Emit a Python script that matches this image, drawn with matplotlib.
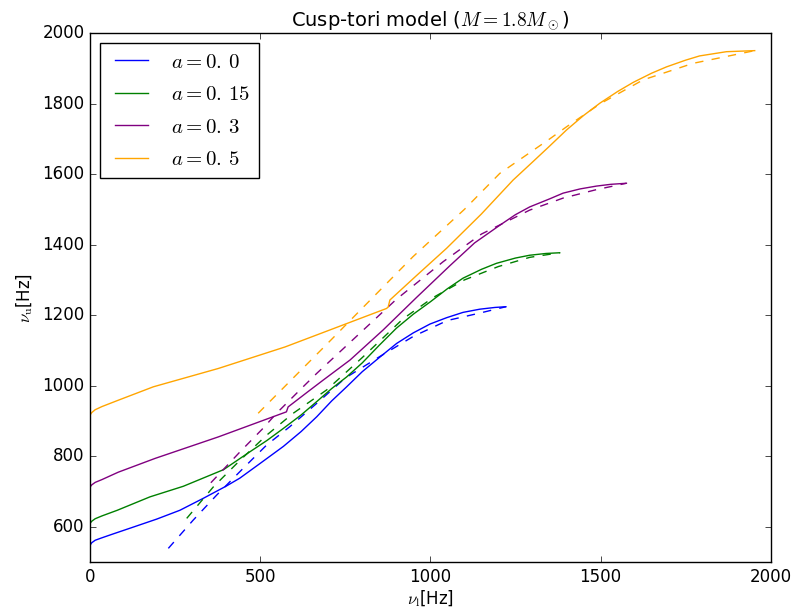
import matplotlib
matplotlib.use("Agg")
import matplotlib.pyplot as plt

plt.style.use("classic")

spins = [r"0.\,0", r"0.\,15", r"0.\,3", r"0.\,5"]
colors = ["blue", "green", "purple", "orange"]

# solid curves (nu_l, nu_u)
blue_x = [0, 5, 15, 35, 68, 120, 196, 264, 333, 401, 440, 500, 568, 620, 666, 710, 754, 800, 850, 901, 950, 999, 1048, 1096, 1145, 1190, 1222]
blue_y = [548, 555, 562, 569, 580, 597, 622, 647, 681, 716, 738, 780, 828, 870, 912, 957, 997, 1040, 1080, 1120, 1150, 1175, 1193, 1208, 1217, 1222, 1224]
green_x = [0, 5, 15, 35, 80, 176, 274, 392, 470, 520, 568, 620, 666, 710, 754, 800, 850, 900, 950, 1000, 1050, 1096, 1150, 1194, 1250, 1292, 1340, 1380]
green_y = [610, 616, 623, 631, 647, 685, 715, 762, 813, 845, 879, 917, 955, 992, 1025, 1065, 1115, 1163, 1203, 1238, 1275, 1305, 1330, 1347, 1362, 1370, 1375, 1377]
purple_x = [0, 5, 15, 35, 83, 191, 377, 560, 577, 582, 640, 685, 764, 861, 959, 1057, 1130, 1204, 1250, 1292, 1351, 1390, 1440, 1488, 1530, 1576]
purple_y = [713, 719, 726, 734, 755, 794, 855, 920, 926, 940, 983, 1016, 1073, 1158, 1250, 1340, 1405, 1455, 1485, 1507, 1530, 1546, 1558, 1566, 1571, 1574]
orange_x = [0, 5, 15, 35, 83, 186, 377, 573, 666, 871, 876, 881, 960, 1048, 1150, 1243, 1300, 1351, 1400, 1450, 1498, 1550, 1596, 1650, 1694, 1750, 1791, 1870, 1953]
orange_y = [917, 924, 932, 941, 959, 997, 1049, 1110, 1144, 1219, 1223, 1243, 1313, 1390, 1487, 1583, 1634, 1680, 1725, 1766, 1801, 1834, 1860, 1886, 1904, 1923, 1935, 1947, 1950]

# dashed curves
blue_dx = [230, 303, 372, 450, 519, 587, 666, 750, 850, 950, 1050, 1145, 1222]
blue_dy = [539, 619, 690, 766, 832, 884, 950, 1022, 1082, 1140, 1185, 1206, 1224]
green_dx = [284, 362, 441, 519, 597, 695, 800, 920, 1008, 1100, 1200, 1292, 1380]
green_dy = [624, 713, 789, 860, 922, 988, 1080, 1190, 1250, 1300, 1338, 1364, 1377]
purple_dx = [355, 441, 509, 548, 626, 666, 813, 900, 1038, 1150, 1292, 1390, 1488, 1576]
purple_dy = [725, 813, 880, 922, 997, 1035, 1167, 1245, 1352, 1430, 1498, 1532, 1556, 1574]
orange_dx = [494, 600, 700, 800, 949, 1100, 1204, 1351, 1400, 1500, 1625, 1772, 1953]
orange_dy = [922, 1025, 1122, 1220, 1366, 1500, 1602, 1700, 1734, 1800, 1867, 1914, 1950]

solid = [(blue_x, blue_y), (green_x, green_y), (purple_x, purple_y), (orange_x, orange_y)]
dashed = [(blue_dx, blue_dy), (green_dx, green_dy), (purple_dx, purple_dy), (orange_dx, orange_dy)]

fig = plt.figure(figsize=(7.97, 6.11), dpi=100, facecolor="white")
ax = fig.add_axes([0.113, 0.080, 0.854, 0.866])

for (sx, sy), (dx, dy), c, a in zip(solid, dashed, colors, spins):
    ax.plot(sx, sy, "-", color=c, lw=1.0, label=r"$a=%s$" % a)
    ax.plot(dx, dy, "--", color=c, lw=1.0)

ax.set_xlim(0, 2000)
ax.set_ylim(500, 2000)
ax.set_xticks([0, 500, 1000, 1500, 2000])
ax.set_yticks(range(600, 2001, 200))
ax.tick_params(labelsize=12)
ax.set_xlabel(r"$\nu_{\rm l}$[Hz]", fontsize=12, labelpad=2)
ax.set_ylabel(r"$\nu_{\rm u}$[Hz]", fontsize=12)
ax.set_title(r"Cusp-tori model ($M=1.8M_\odot$)", fontsize=14)
ax.legend(loc="upper left", fontsize=15, handlelength=2.2, labelspacing=0.6)

fig.savefig("out.png", dpi=100, facecolor="white")
